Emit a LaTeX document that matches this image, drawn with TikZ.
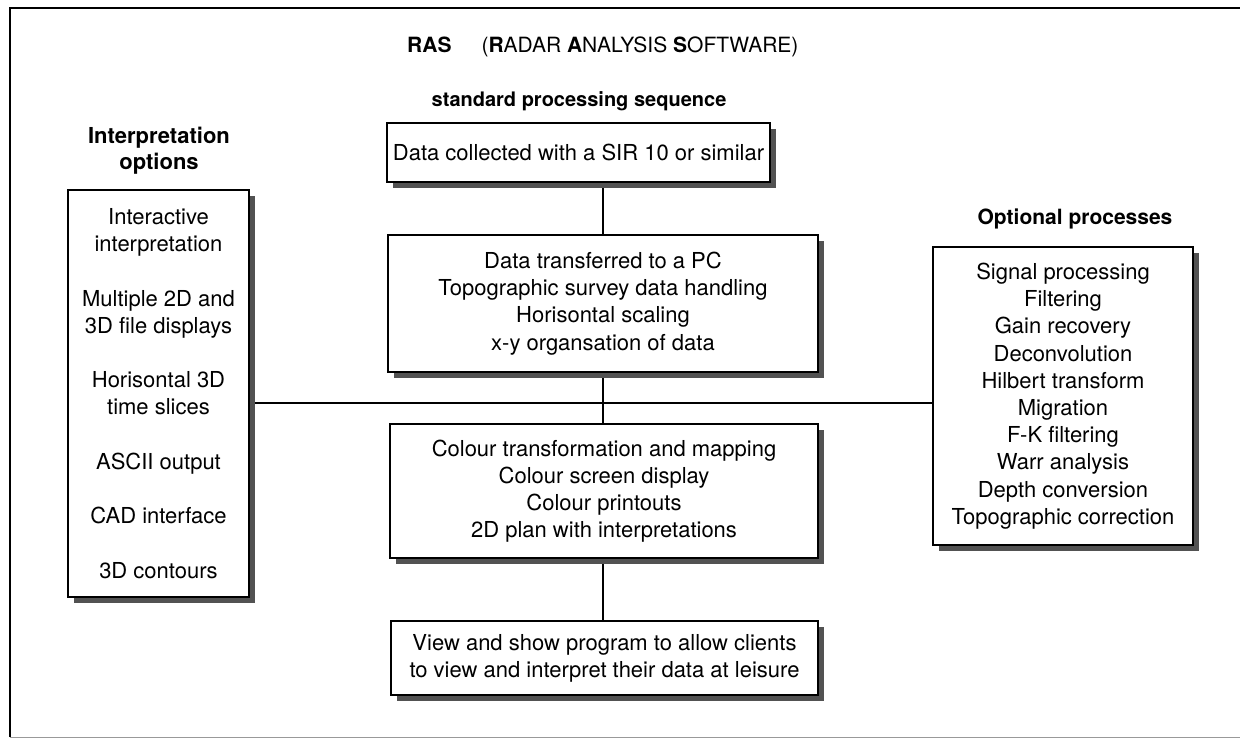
\documentclass[tikz,border=0pt]{standalone}
\usepackage{fontspec}
\setmainfont{TeX Gyre Heros}
\usetikzlibrary{shadows,backgrounds}
\begin{document}
\begin{tikzpicture}[x=1pt,y=-1pt,
  box/.style={draw=black, line width=1.3pt, fill=white, align=center, inner sep=0pt,
     font=\fontsize{22}{27.2}\selectfont,
     drop shadow={shadow xshift=6pt,shadow yshift=-6pt,opacity=1,fill=black!68}},
  head/.style={align=center, inner sep=0pt},
  link/.style={line width=1.3pt}]
\useasboundingbox (0,0) rectangle (1240,740);
% outer frame
\draw[line width=1.8pt] (10,737) -- (10,8) -- (1240,8);
\draw[line width=0.8pt, black!40] (10,737) -- (1240,737);

% title and headers
\node[anchor=base west, inner sep=0pt, font=\fontsize{21}{25}\selectfont] (title) at (407,52)
  {\textbf{RAS}\hspace{30pt}(\textbf{R}ADAR \textbf{A}NALYSIS \textbf{S}OFTWARE)};
\node[head, anchor=base, font=\fontsize{20}{24}\selectfont\bfseries] (hstd) at (579,106) {standard processing sequence};
\node[head, font=\fontsize{22}{26}\selectfont\bfseries] (hint) at (159,151) {Interpretation\\options};
\node[head, anchor=base, font=\fontsize{21}{25}\selectfont\bfseries] (hopt) at (1075,224) {Optional processes};

% boxes
\node[box, minimum width=383pt, minimum height=59pt] (b1) at (578.5,152.5)
  {Data collected with a SIR 10 or similar};
\node[box, minimum width=430pt, minimum height=137pt] (b2) at (603,303.5)
  {Data transferred to a PC\\Topographic survey data handling\\Horisontal scaling\\x-y organsation of data};
\node[box, minimum width=428pt, minimum height=134pt] (b3) at (604,491)
  {Colour transformation and mapping\\Colour screen display\\Colour printouts\\2D plan with interpretations};
\node[box, minimum width=427pt, minimum height=74pt] (b4) at (604.5,658)
  {View and show program to allow clients\\to view and interpret their data at leisure};
\node[box, minimum width=181pt, minimum height=407pt] (left) at (158.5,393.5)
  {Interactive\\interpretation\\[27.2pt]Multiple 2D and\\3D file displays\\[27.2pt]Horisontal 3D\\time slices\\[27.2pt]ASCII output\\[27.2pt]CAD interface\\[27.2pt]3D contours};
\node[box, minimum width=260pt, minimum height=298pt] (right) at (1063,396)
  {Signal processing\\Filtering\\Gain recovery\\Deconvolution\\Hilbert transform\\Migration\\F-K filtering\\Warr analysis\\Depth conversion\\Topographic correction};

% connectors
\coordinate (sp) at (603,403);
\begin{scope}[on background layer]
\draw[link] (b1.south -| sp) -- (b2.north -| sp);
\draw[link] (b2.south -| sp) -- (b3.north -| sp);
\draw[link] (b3.south -| sp) -- (b4.north -| sp);
\draw[link] (left.east |- sp) -- (right.west |- sp);
\end{scope}
\end{tikzpicture}
\end{document}
